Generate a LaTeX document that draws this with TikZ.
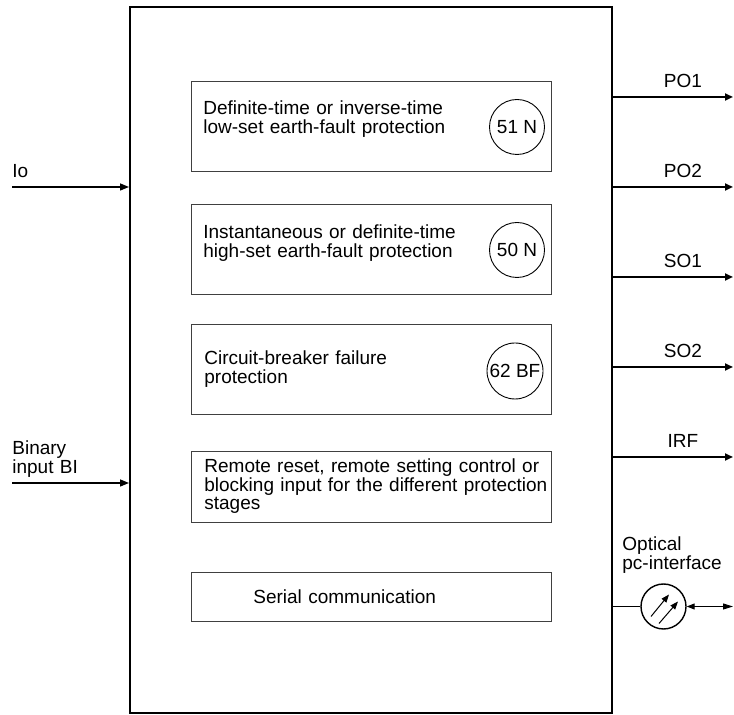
\documentclass[tikz,border=0pt]{standalone}
\usepackage{fontspec}
\setmainfont{Liberation Sans}
\usetikzlibrary{arrows.meta}
\tikzset{
stagebox/.style={draw=black!75, line width=0.5pt, minimum width=180pt, inner sep=0pt},
stagetext/.style={anchor=base west, align=left, text width=172pt, inner sep=0pt},
code/.style={draw, circle, line width=0.45pt, minimum size=27.5pt, inner sep=0pt},
outsig/.style={line width=1pt, -{Triangle[length=4pt, width=3.5pt]}},
insig/.style={line width=0.7pt, -{Triangle[length=4.5pt, width=3.5pt]}},
sig/.style={anchor=base west, align=left, text width=60pt, inner sep=0pt},
outlabel/.style={anchor=base, inner sep=0pt}
}

\begin{document}
\begin{tikzpicture}[x=0.5pt, y=-0.5pt, font=\fontsize{9.5}{9.25}\selectfont]
	\useasboundingbox (0,0) rectangle (734,715);
	\node[draw, line width=1pt, minimum width=241pt, minimum height=353.25pt, inner sep=0pt] (relay) at (371,360.25) {};
	\node[stagebox, minimum height=45pt] (s51) at (371,127) {};
	\node[stagetext] (t51) at (203,115) {Definite-time or inverse-time\\low-set earth-fault protection};
	\node[code] (c51) at (517,127) {51 N};
	\node[stagebox, minimum height=45pt] (s50) at (371,250) {};
	\node[stagetext] (t50) at (203,239) {Instantaneous or definite-time\\high-set earth-fault protection};
	\node[code] (c50) at (517,250) {50 N};
	\node[stagebox, minimum height=45pt] (s62) at (371,370) {};
	\node[stagetext] (t62) at (204,365) {Circuit-breaker failure\\protection};
	\node[code, minimum size=28pt] (c62) at (515,371) {62 BF};
	\node[stagebox, minimum height=35.5pt] (sbi) at (371,487.5) {};
	\node[stagetext] (tbi) at (204,473) {Remote reset, remote setting control or\\blocking input for the different protection\\stages};
	\node[stagebox, minimum height=24.5pt] (sser) at (371,597.5) {};
	\node[stagetext] (tser) at (253,604) {Serial communication};

	\coordinate (io) at (12,187);
	\draw[insig] (io) -- (relay.west |- io);
	\node[sig] (lio) at (12,178) {Io};
	\coordinate (bi) at (12,483);
	\draw[insig] (bi) -- (relay.west |- bi);
	\node[sig] (lbi) at (12,455) {Binary\\input BI};

	\coordinate (po1) at (733,97);
	\draw[outsig] (relay.east |- po1) -- (po1);
	\node[outlabel] (lpo1) at (683,88) {PO1};
	\coordinate (po2) at (733,187);
	\draw[outsig] (relay.east |- po2) -- (po2);
	\node[outlabel] (lpo2) at (683,178) {PO2};
	\coordinate (so1) at (733,277);
	\draw[outsig] (relay.east |- so1) -- (so1);
	\node[outlabel] (lso1) at (683,268) {SO1};
	\coordinate (so2) at (733,367);
	\draw[outsig] (relay.east |- so2) -- (so2);
	\node[outlabel] (lso2) at (683,358) {SO2};
	\coordinate (irf) at (733,457);
	\draw[outsig] (relay.east |- irf) -- (irf);
	\node[outlabel] (lirf) at (683,448) {IRF};

	\node[draw, circle, line width=0.7pt, minimum size=22.5pt, inner sep=0pt] (optic) at (663.5,606.5) {};
	\draw[line width=0.5pt] (relay.east |- optic) -- (optic);
	\coordinate (pc) at (733,606.5);
	\draw[line width=0.5pt, {Triangle[length=4pt, width=3pt]}-{Triangle[length=5pt, width=3pt]}] (optic) -- (pc);
	\draw[line width=0.5pt, -{Triangle[length=4pt, width=3pt]}] ([shift={(-12.5,10)}]optic.center) -- ([shift={(5.5,-12)}]optic.center);
	\draw[line width=0.5pt, -{Triangle[length=4pt, width=3pt]}] ([shift={(-4.5,17)}]optic.center) -- ([shift={(14.5,-5)}]optic.center);
	\node[sig] (lopt) at (622,551) {Optical\\pc-interface};
\end{tikzpicture}
\end{document}
